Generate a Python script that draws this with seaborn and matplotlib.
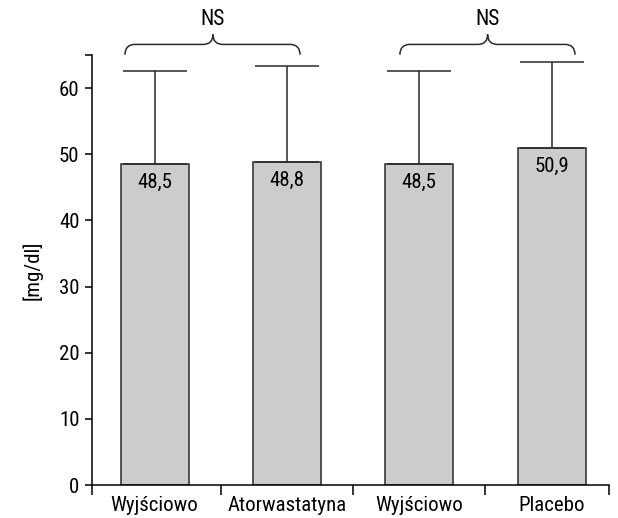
import numpy as np
import pandas as pd
import matplotlib
matplotlib.use('Agg')
import matplotlib.pyplot as plt
from matplotlib.path import Path
from matplotlib.patches import PathPatch
import seaborn as sns

# data
labels = ['Wyjściowo', 'Atorwastatyna', 'Wyjściowo', 'Placebo']
arm = ['atorwastatyna', 'atorwastatyna', 'placebo', 'placebo']
timepoint = ['baseline', 'po', 'baseline', 'po']
means = [48.5, 48.8, 48.5, 50.9]
sds = [14.1, 14.6, 14.1, 13.0]

df = pd.DataFrame({
    'grupa': [f'{a}-{t}' for a, t in zip(arm, timepoint)],
    'mean': means,
    'sd': sds,
})

sns.set_theme(style='ticks')
plt.rcParams['font.family'] = ['Roboto Condensed', 'Liberation Sans Narrow', 'Roboto', 'DejaVu Sans']
plt.rcParams['axes.linewidth'] = 1.1

fig = plt.figure(figsize=(6.18, 5.18), dpi=100)
ax = fig.add_axes([0.1489, 0.0637, 0.8365, 0.8301])

sns.barplot(data=df, x='grupa', y='mean', color='#cccccc', saturation=1,
            edgecolor='#2a2a2a', linewidth=1.1, width=0.514, errorbar=None, ax=ax)

xs = [p.get_x() + p.get_width() / 2 for p in ax.patches]
ax.errorbar(xs, df['mean'], yerr=[np.zeros(len(df)), df['sd']], fmt='none',
            ecolor='#2a2a2a', elinewidth=1.1, capsize=22.7, capthick=1.1, zorder=1)

for x, v in zip(xs, df['mean']):
    ax.annotate(f'{v:.1f}'.replace('.', ','), (x, v), xytext=(0, -6.5),
                textcoords='offset points', ha='center', va='top', fontsize=15, color='black')

ax.set_xlim(-0.473, 3.434)
ax.set_ylim(0, 65)
ax.set_yticks(range(0, 61, 10))
ax.set_yticks([65], minor=True)
ax.set_xticks(range(4))
ax.set_xticklabels(labels)
ax.set_xticks([-0.473, 0.5, 1.5, 2.5, 3.434], minor=True)
ax.tick_params(axis='x', which='major', length=0, pad=8, labelsize=15, colors='black')
ax.tick_params(axis='x', which='minor', length=7.5, width=1.1, color='black')
ax.tick_params(axis='y', which='both', length=5, width=1.1, pad=4, labelsize=15, color='black', labelcolor='black')
ax.set_xlabel('')
ax.set_ylabel('[mg/dl]', fontsize=15, labelpad=12, color='black')
sns.despine(ax=ax)
for s in ['left', 'bottom']:
    ax.spines[s].set_color('black')


def brace(ax, x0, x1, xm, yb=65.05, yl=66.6, yt=68.1, r=0.075):
    verts = [(x0, yb), (x0, yl), (x0 + r, yl),
             (xm - r, yl), (xm, yl), (xm, yt),
             (xm, yl), (xm + r, yl),
             (x1 - r, yl), (x1, yl), (x1, yb)]
    codes = [Path.MOVETO, Path.CURVE3, Path.CURVE3,
             Path.LINETO, Path.CURVE3, Path.CURVE3,
             Path.CURVE3, Path.CURVE3,
             Path.LINETO, Path.CURVE3, Path.CURVE3]
    ax.add_patch(PathPatch(Path(verts, codes), fill=False, edgecolor='#2a2a2a',
                           linewidth=1.1, clip_on=False))
    ax.text(xm, 70.4, 'NS', ha='center', va='center', fontsize=15.5, color='black')


brace(ax, -0.224, 1.099, 0.441)
brace(ax, 1.854, 3.177, 2.517)

fig.savefig('out.png', dpi=100)
